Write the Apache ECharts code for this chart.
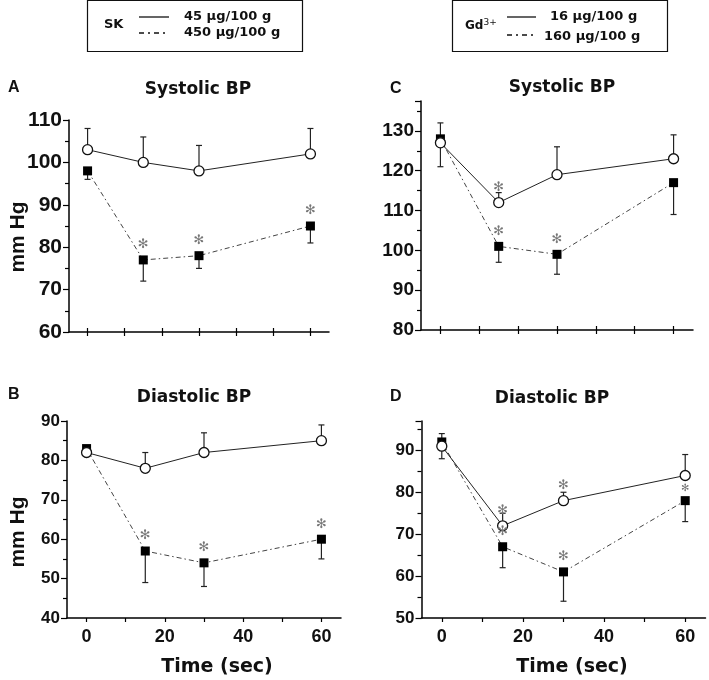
<!DOCTYPE html>
<html><head><meta charset="utf-8">
<script src="https://cdn.jsdelivr.net/npm/echarts@6/dist/echarts.min.js"></script>
<style>html,body{margin:0;padding:0;background:#fff}#c{width:709px;height:680px}</style>
</head><body><div id="c"></div>
<script>
// ---- data ----
const time = [0, 15, 30, 60];
const xTicks = [0, 10, 20, 30, 40, 50, 60];
const xLabels = [0, 20, 40, 60];

// Panel A: SK, systolic BP
const skLowSys = [103, 100, 98, 102];
const skLowSysErr = [108, 106, 104, 108];
const skLowSysStar = [0, 0, 0, 0];
const skHighSys = [98, 77, 78, 85];
const skHighSysErr = [96, 72, 75, 81];
const skHighSysStar = [0, 1, 1, 1];

// Panel B: SK, diastolic BP
const skLowDia = [82, 78, 82, 85];
const skLowDiaErr = [81, 82, 87, 89];
const skLowDiaStar = [0, 0, 0, 0];
const skHighDia = [83, 57, 54, 60];
const skHighDiaErr = [81, 49, 48, 55];
const skHighDiaStar = [0, 1, 1, 1];

// Panel C: Gd3+, systolic BP
const gdLowSys = [127, 112, 119, 123];
const gdLowSysErr = [121, 114.5, 126, 129];
const gdLowSysStar = [0, 1, 0, 0];
const gdHighSys = [128, 101, 99, 117];
const gdHighSysErr = [132, 97, 94, 109];
const gdHighSysStar = [0, 1, 1, 0];

// Panel D: Gd3+, diastolic BP
const gdLowDia = [91, 72, 78, 84];
const gdLowDiaErr = [88, 75, 80, 89];
const gdLowDiaStar = [0, 1, 1, 0];
const gdHighDia = [92, 67, 61, 78];
const gdHighDiaErr = [94, 62, 54, 73];
const gdHighDiaStar = [0, 1, 1, 2];

// y-axis ranges
const yRanges = [[60, 110], [40, 90], [80, 137.5], [50, 97]];

// ---- layout ----
const grids = [
  {left: 69, top: 120, width: 260, height: 212},
  {left: 67, top: 421, width: 274, height: 197},
  {left: 421, top: 101, width: 272, height: 229},
  {left: 421.5, top: 421, width: 284, height: 197}
];
const yFont = [21, 17, 19, 17];
const showX = [false, true, false, true];

const panels = [
  {low: skLowSys, lowErr: skLowSysErr, lowStar: skLowSysStar, high: skHighSys, highErr: skHighSysErr, highStar: skHighSysStar},
  {low: skLowDia, lowErr: skLowDiaErr, lowStar: skLowDiaStar, high: skHighDia, highErr: skHighDiaErr, highStar: skHighDiaStar},
  {low: gdLowSys, lowErr: gdLowSysErr, lowStar: gdLowSysStar, high: gdHighSys, highErr: gdHighSysErr, highStar: gdHighSysStar},
  {low: gdLowDia, lowErr: gdLowDiaErr, lowStar: gdLowDiaStar, high: gdHighDia, highErr: gdHighDiaErr, highStar: gdHighDiaStar}
];

const xAxes = [], yAxes = [], series = [];
const labelFont = {fontFamily: 'Liberation Sans', fontWeight: 'bold', color: '#111'};

grids.forEach((g, i) => {
  xAxes.push({
    type: 'value', gridIndex: i, min: -5, max: 65,
    axisLine: {show: true, lineStyle: {color: '#000', width: 1.5}},
    axisTick: {show: true, inside: false, length: 4, lineStyle: {color: '#000', width: 1.2}, customValues: xTicks},
    axisLabel: Object.assign({show: showX[i], fontSize: 18, margin: 10, customValues: xLabels}, labelFont),
    splitLine: {show: false}
  });
  yAxes.push({
    type: 'value', gridIndex: i, min: yRanges[i][0], max: yRanges[i][1], interval: 10,
    axisLine: {show: true, onZero: false, lineStyle: {color: '#000', width: 1.5}},
    axisTick: {show: true, length: 6, lineStyle: {color: '#000', width: 1.2}},
    minorTick: {show: true, splitNumber: 2, length: 4, lineStyle: {color: '#000', width: 1.2}},
    axisLabel: Object.assign({fontSize: yFont[i], margin: 7,
      formatter: v => (v % 10 === 0 ? String(v) : '')}, labelFont),
    splitLine: {show: false}
  });
});
// inner tick marks crossing x axis for upper panels
[0, 2].forEach(i => {
  xAxes.push({
    type: 'value', gridIndex: i, min: -5, max: 65, position: 'bottom',
    axisLine: {show: false},
    axisTick: {show: true, inside: true, length: 4, lineStyle: {color: '#000', width: 1.2}, customValues: xTicks},
    axisLabel: {show: false}, splitLine: {show: false}
  });
});

function errSeries(i, vals, errs) {
  return {
    type: 'custom', xAxisIndex: i, yAxisIndex: i, z: 1, silent: true,
    data: time.map((t, k) => [t, vals[k], errs[k]]),
    renderItem: (params, api) => {
      const p = api.coord([api.value(0), api.value(1)]);
      const q = api.coord([api.value(0), api.value(2)]);
      const st = {stroke: '#222', lineWidth: 1.2};
      return {type: 'group', children: [
        {type: 'line', shape: {x1: p[0], y1: p[1], x2: q[0], y2: q[1]}, style: st},
        {type: 'line', shape: {x1: q[0] - 3, y1: q[1], x2: q[0] + 3, y2: q[1]}, style: st}
      ]};
    }
  };
}
function starSeries(i, vals, flags) {
  return {
    type: 'custom', xAxisIndex: i, yAxisIndex: i, z: 5, silent: true,
    data: time.map((t, k) => [t, vals[k], flags[k]]),
    renderItem: (params, api) => {
      const f = api.value(2);
      if (!f) return null;
      const p = api.coord([api.value(0), api.value(1)]);
      return {type: 'text', style: {text: '✻', x: p[0], y: p[1] - (f === 2 ? 12 : 15),
        fill: '#777', font: (f === 2 ? '10px' : '13px') + ' "DejaVu Sans"', align: 'center', verticalAlign: 'middle'}};
    }
  };
}

panels.forEach((pn, i) => {
  series.push(errSeries(i, pn.low, pn.lowErr));
  series.push(errSeries(i, pn.high, pn.highErr));
  series.push({
    type: 'line', xAxisIndex: i, yAxisIndex: i, z: 3,
    data: time.map((t, k) => [t, pn.high[k]]),
    symbol: 'rect', symbolSize: 9, itemStyle: {color: '#000'},
    lineStyle: {color: '#444', width: 1, type: [5, 3, 1.5, 3]}
  });
  series.push({
    type: 'line', xAxisIndex: i, yAxisIndex: i, z: 4,
    data: time.map((t, k) => [t, pn.low[k]]),
    symbol: 'circle', symbolSize: 10, itemStyle: {color: '#fff', borderColor: '#111', borderWidth: 1.3},
    lineStyle: {color: '#222', width: 1, type: 'solid'}
  });
  series.push(starSeries(i, pn.low, pn.lowStar));
  series.push(starSeries(i, pn.high, pn.highStar));
});

// ---- annotations ----
const legendFont = 'bold 13px "DejaVu Sans"';
function txt(text, x, y, font, align, extra) {
  return Object.assign({type: 'text', x: x, y: y, style: {text: text, x: 0, y: 0, font: font, fill: '#111', align: align || 'left', verticalAlign: 'middle'}}, extra || {});
}
function seg(x1, x2, y, dash) {
  return {type: 'line', shape: {x1: x1, y1: y, x2: x2, y2: y}, style: {stroke: '#111', lineWidth: 1.3, lineDash: dash || null}};
}
const graphic = [
  {type: 'rect', shape: {x: 87.5, y: 0.5, width: 215, height: 51}, style: {fill: 'none', stroke: '#111', lineWidth: 1.2}},
  txt('SK', 104, 25, legendFont),
  seg(139, 169, 17), seg(139, 169, 33, [5, 4, 2, 4]),
  txt('45 µg/100 g', 184, 17, legendFont),
  txt('450 µg/100 g', 184, 33, legendFont),
  {type: 'rect', shape: {x: 452.5, y: 0.5, width: 215, height: 51}, style: {fill: 'none', stroke: '#111', lineWidth: 1.2}},
  {type: 'text', x: 465, y: 26, style: {text: '{a|Gd}{b|3+}', x: 0, y: 0, verticalAlign: 'middle',
    rich: {a: {font: 'bold 12px "DejaVu Sans"', fill: '#111'}, b: {font: '9px "DejaVu Sans"', fill: '#111', verticalAlign: 'top', padding: [0, 0, 6, 0]}}}},
  seg(507, 536, 17), seg(507, 536, 35, [5, 4, 2, 4]),
  txt('16 µg/100 g', 550, 17, legendFont),
  txt('160 µg/100 g', 544, 37, legendFont),

  txt('A', 8, 88, 'bold 16px "Liberation Sans"'),
  txt('B', 8, 395, 'bold 16px "Liberation Sans"'),
  txt('C', 390, 89, 'bold 16px "Liberation Sans"'),
  txt('D', 390, 397, 'bold 16px "Liberation Sans"'),
  txt('Systolic BP', 198, 90, 'bold 17px "DejaVu Sans"', 'center'),
  txt('Systolic BP', 562, 88, 'bold 17px "DejaVu Sans"', 'center'),
  txt('Diastolic BP', 194, 398, 'bold 17px "DejaVu Sans"', 'center'),
  txt('Diastolic BP', 552, 399, 'bold 17px "DejaVu Sans"', 'center'),
  txt('mm Hg', 18, 237, 'bold 21px "Liberation Sans"', 'center', {rotation: Math.PI / 2}),
  txt('mm Hg', 18, 532, 'bold 21px "Liberation Sans"', 'center', {rotation: Math.PI / 2}),
  txt('Time (sec)', 217, 667, 'bold 19px "DejaVu Sans"', 'center'),
  txt('Time (sec)', 572, 667, 'bold 19px "DejaVu Sans"', 'center')
];

const chart = echarts.init(document.getElementById('c'), null, {renderer: 'canvas'});
chart.setOption({
  animation: false,
  backgroundColor: '#fff',
  grid: grids,
  xAxis: xAxes,
  yAxis: yAxes,
  series: series,
  graphic: graphic
});
</script>
</body></html>
